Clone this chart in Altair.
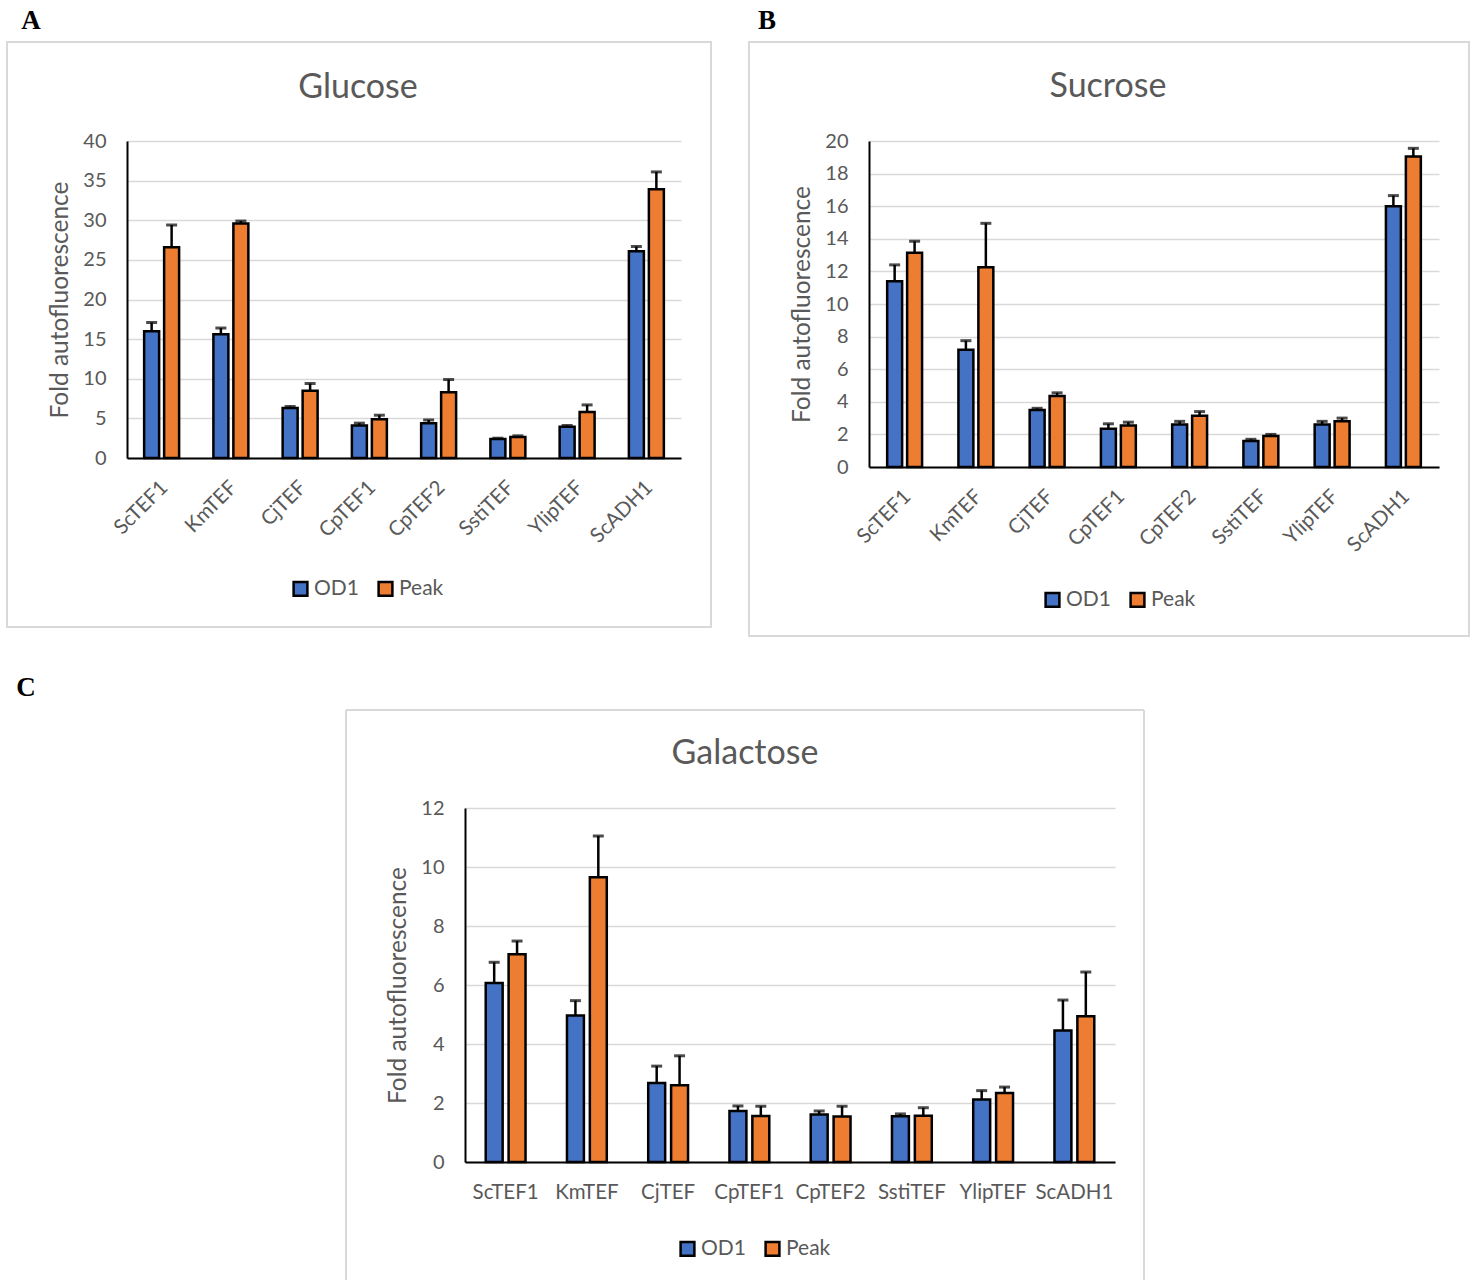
import altair as alt
import pandas as pd

categories = ["ScTEF1", "KmTEF", "CjTEF", "CpTEF1", "CpTEF2", "SstiTEF", "YlipTEF", "ScADH1"]
series_names = ["OD1", "Peak"]
series_colors = ["#4472C4", "#ED7D31"]

glu_od1 = [16.0, 15.6, 6.3, 4.1, 4.4, 2.4, 3.95, 26.1]
glu_od1_err = [1.1, 0.8, 0.2, 0.3, 0.4, 0.1, 0.15, 0.6]
glu_peak = [26.6, 29.6, 8.5, 4.9, 8.3, 2.65, 5.8, 33.9]
glu_peak_err = [2.8, 0.3, 0.9, 0.5, 1.6, 0.15, 0.9, 2.2]

suc_od1 = [11.4, 7.2, 3.5, 2.35, 2.6, 1.6, 2.6, 16.0]
suc_od1_err = [1.0, 0.55, 0.1, 0.3, 0.2, 0.1, 0.2, 0.65]
suc_peak = [13.15, 12.25, 4.35, 2.55, 3.15, 1.9, 2.8, 19.05]
suc_peak_err = [0.7, 2.7, 0.2, 0.2, 0.25, 0.1, 0.2, 0.5]

gal_od1 = [6.07, 4.97, 2.68, 1.73, 1.61, 1.55, 2.12, 4.46]
gal_od1_err = [0.7, 0.5, 0.57, 0.17, 0.12, 0.08, 0.3, 1.03]
gal_peak = [7.04, 9.65, 2.6, 1.56, 1.54, 1.57, 2.34, 4.94]
gal_peak_err = [0.45, 1.4, 1.0, 0.33, 0.35, 0.27, 0.2, 1.5]

FONT = "Lato"
GREY = "#595959"
FRAME = "#d9d9d9"
Y_TITLE = "Fold autofluorescence"


def make_df(od, od_err, peak, peak_err):
    rows = []
    for i, c in enumerate(categories):
        rows.append({"cat": c, "series": "OD1", "value": od[i], "top": od[i] + od_err[i]})
        rows.append({"cat": c, "series": "Peak", "value": peak[i], "top": peak[i] + peak_err[i]})
    return pd.DataFrame(rows)


def letter_chart(letter, pos, w=10, h=10):
    return alt.Chart(pd.DataFrame({"t": [letter]})).mark_text(
        font="Liberation Serif", fontWeight="bold", fontSize=27, color="black",
        align="center", baseline="middle").encode(
        text="t:N", x=alt.value(pos[0]), y=alt.value(pos[1])).properties(width=w, height=h)


def frame_layers(border, bottom=True):
    one = pd.DataFrame({"k": [0]})
    x0, x1, y0, y1 = border
    if bottom:
        return [alt.Chart(one).mark_rect(
            fill="white", fillOpacity=0, stroke=FRAME, strokeWidth=2).encode(
            x=alt.value(x0), x2=alt.value(x1), y=alt.value(y0), y2=alt.value(y1))]
    segs = [(x0, x1, y0, y0), (x0, x0, y0, y1), (x1, x1, y0, y1)]
    return [alt.Chart(one).mark_rule(color=FRAME, strokeWidth=2).encode(
        x=alt.value(a), x2=alt.value(b), y=alt.value(c), y2=alt.value(d))
        for a, b, c, d in segs]


def panel(df, title, letter, ymax, ystep, w, h, xpad, subpad, angle, lab_pad, lab_off,
          border, title_pos, letter_pos, legend_pos, cap, bottom=True):
    x_axis = alt.Axis(title=None, labelAngle=angle, labelFont=FONT, labelFontSize=20.5,
                      labelColor=GREY, ticks=False, domainColor="black", domainWidth=2,
                      labelPadding=lab_pad, labelOffset=lab_off, grid=False)
    x = alt.X("cat:N", sort=categories,
              scale=alt.Scale(paddingInner=xpad, paddingOuter=xpad / 2), axis=x_axis)
    xo = alt.XOffset("series:N", sort=series_names,
                     scale=alt.Scale(paddingInner=subpad, paddingOuter=0))
    y_axis = alt.Axis(title=Y_TITLE, values=list(range(0, ymax + 1, ystep)),
                      labelFont=FONT, labelFontSize=20, labelColor=GREY, labelPadding=21,
                      ticks=False, domainColor="black", domainWidth=2,
                      grid=True, gridColor=FRAME, gridWidth=1.5,
                      titleFont=FONT, titleFontSize=24.5, titleFontWeight="normal",
                      titleColor=GREY, titlePadding=10)
    yscale = alt.Scale(domain=[0, ymax], nice=False, zero=True)
    base = alt.Chart(df)
    bars = base.mark_bar(stroke="black", strokeWidth=2.5).encode(
        x=x, xOffset=xo,
        y=alt.Y("value:Q", scale=yscale, axis=y_axis),
        color=alt.Color("series:N", sort=series_names,
                        scale=alt.Scale(domain=series_names, range=series_colors),
                        legend=alt.Legend(orient="none", legendX=legend_pos[0],
                                          legendY=legend_pos[1], direction="horizontal",
                                          title=None, symbolType="square", symbolSize=190,
                                          symbolStrokeColor="black", symbolStrokeWidth=2.5,
                                          symbolOpacity=1,
                                          labelFont=FONT, labelFontSize=21,
                                          labelColor=GREY, columnPadding=14,
                                          labelOffset=3)),
    )
    rules = base.mark_rule(color="black", strokeWidth=2.5).encode(
        x=x, xOffset=xo,
        y=alt.Y("value:Q", scale=yscale, axis=y_axis), y2="top:Q")
    caps = base.mark_tick(color="black", thickness=3, size=cap).encode(
        x=x, xOffset=xo, y=alt.Y("top:Q", scale=yscale, axis=y_axis))
    ttl = alt.Chart(pd.DataFrame({"t": [title]})).mark_text(
        font=FONT, fontSize=34, color=GREY, align="center", baseline="middle").encode(
        text="t:N", x=alt.value(title_pos[0]), y=alt.value(title_pos[1]))
    layers = frame_layers(border, bottom) + [bars, rules, caps, ttl]
    if letter is not None:
        layers.append(alt.Chart(pd.DataFrame({"t": [letter]})).mark_text(
            font="Liberation Serif", fontWeight="bold", fontSize=27, color="black",
            align="center", baseline="middle").encode(
            text="t:N", x=alt.value(letter_pos[0]), y=alt.value(letter_pos[1])))
    return alt.layer(*layers).properties(width=w, height=h)


A = panel(make_df(glu_od1, glu_od1_err, glu_peak, glu_peak_err), "Glucose", "A",
          40, 5, 554, 317, 0.495, 0.25, -45, 19, -4,
          (-120, 584, -99, 486), (231, -53), (-96, -120), (163, 437), 11)
B = panel(make_df(suc_od1, suc_od1_err, suc_peak, suc_peak_err), "Sucrose", "B",
          20, 2, 570, 326, 0.51, 0.25, -45, 19, -4,
          (-120, 600, -99, 495), (239, -54), (-102, -120), (173, 448), 11)
C = panel(make_df(gal_od1, gal_od1_err, gal_peak, gal_peak_err), "Galactose", None,
          12, 2, 650, 354, 0.51, 0.26, 0, 20, 0,
          (-119, 679, -98, 472), (280, -54), None, (212, 430), 11, bottom=False)
C_letter = letter_chart("C", (-101, -120))

RES = dict(x="independent", y="independent", color="independent", xOffset="independent")
row1 = alt.hconcat(A, B, spacing=36).resolve_scale(**RES)
row2 = alt.hconcat(C_letter, C, spacing=208).resolve_scale(**RES)
chart = alt.vconcat(row1, row2, spacing=37).resolve_scale(**RES).properties(
    padding={"left": 6, "top": 7, "right": 0, "bottom": 0},
    background="white",
).configure_view(stroke=None)

chart.save("out.html", embed_options={"renderer": "svg", "actions": False})
